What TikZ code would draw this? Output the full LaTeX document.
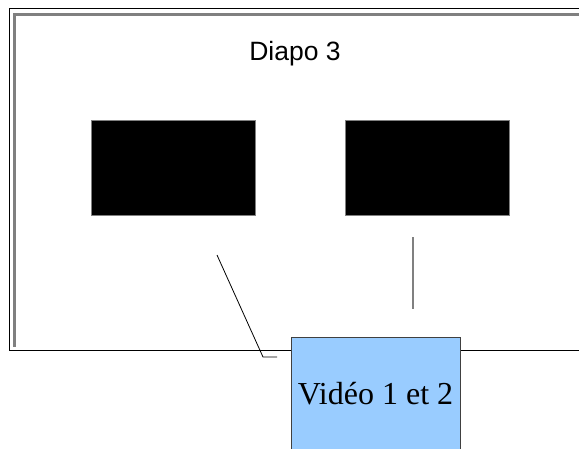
\documentclass[tikz,border=0pt]{standalone}
\usepackage{fontspec}
\setmainfont{Liberation Serif}
\newfontfamily\titlefont{Liberation Sans}
\usetikzlibrary{positioning}

\begin{document}
\begin{tikzpicture}[x=1pt,y=-1pt,
	screen/.style={draw=gray,fill=black,line width=0.6pt,inner sep=0pt,minimum width=164pt,minimum height=95pt,anchor=north west},
	video/.style={draw=black!75,fill={rgb,255:red,153;green,204;blue,255},line width=1pt,inner sep=0pt,minimum width=169pt,minimum height=114pt,anchor=north west}]
	\useasboundingbox (0,0) rectangle (579,448);

	% cadre de la diapo
	\draw[line width=1pt] (579,8) -- (9,8) -- (9,350) -- (579,350);
	\draw[gray,line width=3pt] (579,14.5) -- (14.5,14.5) -- (14.5,347);

	\node[font=\titlefont\fontsize{26.5}{30}\selectfont] at (295,54) (titre) {Diapo 3};

	\node[screen] at (91,120) (ecranA) {};
	\node[screen] at (345,120) (ecranB) {};

	% traits vers la video
	\coordinate (a1) at (217,255);
	\coordinate (a2) at (263,357);
	\coordinate (a3) at (277,357);
	\draw[line width=0.8pt] (a1) -- (a2) -- (a3);
	\coordinate (b1) at (413,237);
	\coordinate (b2) at (413,309);
	\draw[gray,line width=2pt] (b1) -- (b2);

	\node[video,font=\fontsize{32}{36}\selectfont] at (290.5,336.5) (video) {Vidéo 1 et 2};
\end{tikzpicture}
\end{document}
